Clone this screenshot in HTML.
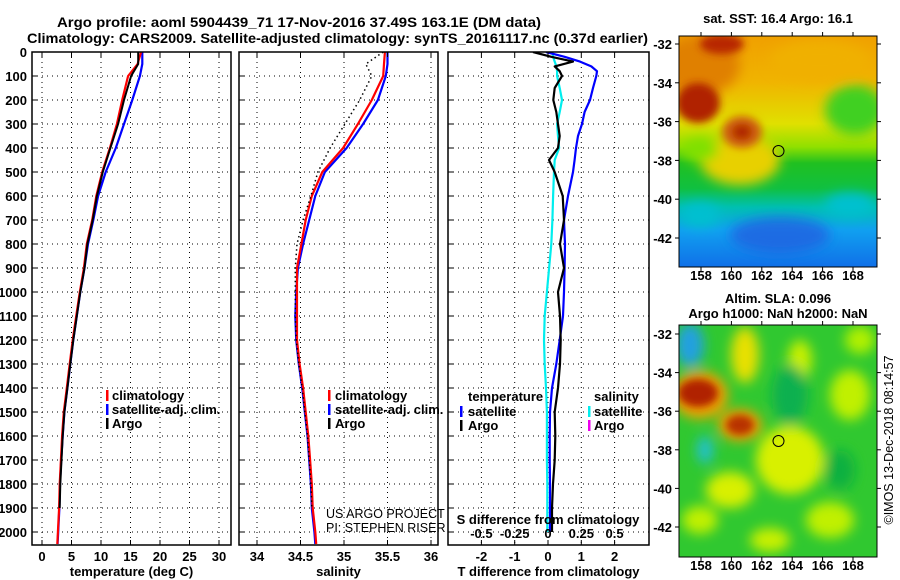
<!DOCTYPE html>
<html><head><meta charset="utf-8">
<style>
html,body{margin:0;padding:0;background:#fff;}
svg{display:block;font-family:"Liberation Sans",sans-serif;}
.b{font-weight:bold;font-size:13px;fill:#000;}
.t{font-weight:bold;font-size:14px;fill:#000;}
</style></head>
<body>
<svg id="chart" width="900" height="580" viewBox="0 0 900 580" xmlns="http://www.w3.org/2000/svg">
<defs>
<filter id="blur6" x="-20%" y="-20%" width="140%" height="140%"><feGaussianBlur stdDeviation="6"/></filter>
<filter id="blur4" x="-20%" y="-20%" width="140%" height="140%"><feGaussianBlur stdDeviation="4"/></filter>
<clipPath id="cp1"><rect x="32" y="52" width="199" height="493"/></clipPath>
<clipPath id="cp2"><rect x="239" y="52" width="199" height="493"/></clipPath>
<clipPath id="cp3"><rect x="448" y="52" width="201" height="493"/></clipPath>
<clipPath id="cpm1"><rect x="679" y="36" width="198" height="231"/></clipPath>
<clipPath id="cpm2"><rect x="679" y="325" width="198" height="232"/></clipPath>
<linearGradient id="sstg" x1="0" y1="0" x2="0" y2="1">
<stop offset="0" stop-color="#f0a000"/><stop offset="0.2" stop-color="#f0b400"/>
<stop offset="0.38" stop-color="#e0e000"/><stop offset="0.48" stop-color="#90e000"/>
<stop offset="0.55" stop-color="#20c020"/><stop offset="0.66" stop-color="#10c040"/>
<stop offset="0.74" stop-color="#00c0b0"/><stop offset="0.84" stop-color="#10a0f0"/>
<stop offset="1" stop-color="#1070e8"/></linearGradient>
</defs>

<g>
<text class="t" x="57" y="27" textLength="484" lengthAdjust="spacingAndGlyphs">Argo profile: aoml 5904439_71 17-Nov-2016 37.49S 163.1E (DM data)</text>
<text class="t" x="27" y="43" textLength="621" lengthAdjust="spacingAndGlyphs">Climatology: CARS2009. Satellite-adjusted climatology: synTS_20161117.nc (0.37d earlier)</text>
</g>

<g id="grids"></g>
<g id="series"></g>
<g id="frames"></g>
<g id="labels"></g>

<g>
<rect x="106" y="390" width="2.5" height="11" fill="#f00"/><text class="b" x="112" y="400">climatology</text>
<rect x="106" y="404" width="2.5" height="11" fill="#00f"/><text class="b" x="112" y="414">satellite-adj. clim.</text>
<rect x="106" y="418" width="2.5" height="11" fill="#000"/><text class="b" x="112" y="428">Argo</text>
</g>
<g>
<rect x="328" y="390" width="2.5" height="11" fill="#f00"/><text class="b" x="335" y="400">climatology</text>
<rect x="328" y="404" width="2.5" height="11" fill="#00f"/><text class="b" x="335" y="414">satellite-adj. clim.</text>
<rect x="328" y="418" width="2.5" height="11" fill="#000"/><text class="b" x="335" y="428">Argo</text>
<text x="326" y="518" font-size="12.5">US ARGO PROJECT</text>
<text x="326" y="532" font-size="12.5">PI: STEPHEN RISER</text>
</g>
<g>
<text class="b" x="468" y="401">temperature</text>
<rect x="460" y="406" width="2.5" height="11" fill="#00f"/><text class="b" x="468" y="416">satellite</text>
<rect x="460" y="420" width="2.5" height="11" fill="#000"/><text class="b" x="468" y="430">Argo</text>
<text class="b" x="594" y="401">salinity</text>
<rect x="588" y="406" width="2.5" height="11" fill="#0ee"/><text class="b" x="594" y="416">satellite</text>
<rect x="588" y="420" width="2.5" height="11" fill="#e0e"/><text class="b" x="594" y="430">Argo</text>
<text class="b" x="548" y="524" text-anchor="middle">S difference from climatology</text>
</g>

<g>
<text class="b" x="778" y="23" text-anchor="middle">sat. SST: 16.4 Argo: 16.1</text>
<g clip-path="url(#cpm1)">
<rect x="679" y="36" width="198" height="231" fill="url(#sstg)"/>
<g filter="url(#blur6)">
<ellipse cx="855" cy="110" rx="30" ry="25" fill="#40d020"/>
<ellipse cx="700" cy="65" rx="40" ry="30" fill="#e08000"/>
<ellipse cx="740" cy="160" rx="40" ry="25" fill="#e8d000"/>
<ellipse cx="700" cy="150" rx="18" ry="12" fill="#80e000"/>
<ellipse cx="820" cy="60" rx="50" ry="20" fill="#f0b000"/>
<ellipse cx="780" cy="235" rx="50" ry="18" fill="#2060e0" opacity="0.8"/>
<ellipse cx="700" cy="215" rx="20" ry="12" fill="#00c0d0"/>
<ellipse cx="850" cy="205" rx="25" ry="12" fill="#00c0d0"/>
</g>
<g filter="url(#blur4)">
<ellipse cx="698" cy="103" rx="22" ry="20" fill="#b02000"/>
<ellipse cx="722" cy="44" rx="22" ry="10" fill="#b82800"/>
<ellipse cx="742" cy="132" rx="20" ry="16" fill="#d06010"/>
<ellipse cx="742" cy="132" rx="10" ry="8" fill="#b02800"/>
</g>
</g>
<circle cx="778.5" cy="151" r="5.5" fill="none" stroke="#000" stroke-width="1"/>
<rect x="679" y="36" width="198" height="231" fill="none" stroke="#000" stroke-width="1"/>
</g>

<g>
<text class="b" x="778" y="303" text-anchor="middle">Altim. SLA: 0.096</text>
<text class="b" x="778" y="318" text-anchor="middle">Argo h1000: NaN h2000: NaN</text>
<g clip-path="url(#cpm2)">
<rect x="679" y="325" width="198" height="232" fill="#30c830"/>
<g filter="url(#blur6)">
<ellipse cx="745" cy="355" rx="14" ry="28" fill="#e8e000"/>
<ellipse cx="800" cy="360" rx="12" ry="20" fill="#c8f000"/>
<ellipse cx="850" cy="395" rx="20" ry="25" fill="#c0f000"/>
<ellipse cx="790" cy="460" rx="34" ry="34" fill="#d8f000"/>
<ellipse cx="730" cy="490" rx="24" ry="18" fill="#d8f000"/>
<ellipse cx="830" cy="520" rx="24" ry="18" fill="#c0f000"/>
<ellipse cx="700" cy="520" rx="18" ry="14" fill="#c0f000"/>
<ellipse cx="770" cy="540" rx="20" ry="12" fill="#c8f000"/>
<ellipse cx="860" cy="340" rx="15" ry="14" fill="#b0f000"/>
<ellipse cx="690" cy="345" rx="14" ry="22" fill="#20a0e0"/>
<ellipse cx="705" cy="450" rx="8" ry="14" fill="#20c0d0"/>
<ellipse cx="700" cy="395" rx="28" ry="24" fill="#f0a000"/>
<ellipse cx="740" cy="425" rx="22" ry="16" fill="#f0a000"/>
<ellipse cx="790" cy="395" rx="18" ry="30" fill="#10b050"/>
<ellipse cx="840" cy="470" rx="15" ry="20" fill="#10b040"/>
</g>
<g filter="url(#blur4)">
<ellipse cx="698" cy="393" rx="20" ry="14" fill="#b02000"/>
<ellipse cx="740" cy="425" rx="14" ry="10" fill="#b83000"/>
</g>
</g>
<circle cx="778.5" cy="441" r="5.5" fill="none" stroke="#000" stroke-width="1"/>
<rect x="679" y="325" width="198" height="232" fill="none" stroke="#000" stroke-width="1"/>
</g>

<text x="893" y="440" font-size="12.5" text-anchor="middle" transform="rotate(-90 893 440)">©IMOS 13-Dec-2018 08:14:57</text>

<script>
const depthTicks = [0,100,200,300,400,500,600,700,800,900,1000,1100,1200,1300,1400,1500,1600,1700,1800,1900,2000];
const tTicks = [0,5,10,15,20,25,30];
const sTicks = [34,34.5,35,35.5,36];
const sTickLabels = ["34","34.5","35","35.5","36"];
const dTTicks = [-2,-1,0,1,2];
const dSTicks = [-0.5,-0.25,0,0.25,0.5];
const dSTickLabels = ["-0.5","-0.25","0","0.25","0.5"];

const profDepth = [0,50,100,200,300,400,500,600,700,800,900,1000,1100,1200,1300,1400,1500,1600,1700,1800,1900,2000,2050];
const tClim = [16.8,16.2,14.6,13.6,12.7,11.5,10.2,9.2,8.5,7.6,7.1,6.4,5.8,5.2,4.7,4.2,3.7,3.4,3.2,3.0,2.9,2.7,2.6];
const tSat = [17.0,17.0,16.6,15.3,13.9,12.5,10.8,9.5,8.7,7.8,7.2,6.5,5.9,5.3,4.8,4.3,3.8,3.5,3.25,3.05,2.95,2.75,2.65];
const sClim = [35.47,35.46,35.45,35.32,35.16,34.99,34.75,34.63,34.56,34.51,34.46,34.46,34.46,34.46,34.49,34.53,34.56,34.59,34.61,34.63,34.64,34.67,34.68];
const sSat = [35.5,35.5,35.48,35.39,35.22,35.03,34.78,34.67,34.60,34.53,34.47,34.45,34.44,34.45,34.48,34.52,34.55,34.58,34.60,34.62,34.63,34.66,34.67];

const argoDepth = [0,50,100,200,300,400,500,600,700,800,900,1000,1100,1200,1300,1400,1500,1600,1700,1800,1900];
const tArgo = [16.3,16.3,15.1,13.9,12.9,11.6,10.3,9.3,8.6,7.7,7.2,6.5,5.9,5.3,4.8,4.3,3.8,3.5,3.3,3.1,3.0];
const sArgo = [35.45,35.25,35.32,35.18,35.01,34.84,34.70,34.62,34.53,34.46,34.44,34.44,34.44,34.45,34.48,34.52,34.55,34.58,34.60,34.62,34.63];

const diffDepth = [0,20,40,60,80,100,150,200,250,300,350,400,450,500,600,700,800,900,1000,1100,1200,1300,1400,1500,1600,1700,1800,1900,2000];
const dTSat = [-0.06,0.5,0.96,1.3,1.47,1.45,1.35,1.26,1.1,1.02,0.9,0.84,0.8,0.75,0.6,0.48,0.51,0.5,0.48,0.45,0.35,0.25,0.12,0.06,0.05,0.05,0.06,0.06,0.06];
const dTArgo = [-0.45,0.1,0.75,0.2,0.35,0.42,0.2,0.16,0.25,0.3,0.35,0.3,0.03,0.2,0.44,0.48,0.36,0.48,0.3,0.36,0.38,0.36,0.3,0.2,0.22,0.2,0.15,0.12,0.12];
const dSSat = [0.033,0.038,0.05,0.063,0.068,0.068,0.088,0.105,0.088,0.068,0.075,0.083,0.05,0.045,0.038,0.033,0.025,0.008,-0.008,-0.025,-0.03,-0.025,-0.015,-0.008,-0.008,-0.008,-0.005,-0.005,-0.005];

const latTicks = [-32,-34,-36,-38,-40,-42];
const lonTicks = [158,160,162,164,166,168];

const yD = d => 52 + d*0.24;
const xT = t => 42 + t*5.9;
const xS = s => 257 + (s-34)*87;
const xDT = t => 548 + t*33.3;
const xDS = s => 548 + s*4*33.3;
const lonX = l => 701 + (l-158)*15.2;
const latY1 = l => 44 + (-32-l)*19.4;
const latY2 = l => 334 + (-32-l)*19.3;

const NS = "http://www.w3.org/2000/svg";
function mk(parent, tag, attrs){
  const e = document.createElementNS(NS, tag);
  for (const k in attrs) e.setAttribute(k, attrs[k]);
  parent.appendChild(e);
  return e;
}
const grids = document.getElementById('grids');
const series = document.getElementById('series');
const frames = document.getElementById('frames');
const labels = document.getElementById('labels');

const panels = [
  {x0:32,x1:231,xf:xT,ticks:tTicks,labs:tTicks.map(String),name:'temperature',title:'temperature (deg C)'},
  {x0:239,x1:438,xf:xS,ticks:sTicks,labs:sTickLabels,name:'salinity',title:'salinity'},
  {x0:448,x1:649,xf:xDT,ticks:dTTicks,labs:dTTicks.map(String),name:'difference',title:'T difference from climatology'}
];
panels.forEach((p,i)=>{
  depthTicks.forEach(d=>{
    if(d===0) return;
    const g = mk(grids,'line',{x1:p.x0,x2:p.x1,y1:yD(d),y2:yD(d),stroke:'#000','stroke-width':1,'stroke-dasharray':'1 4'});
    
    
  });
  p.ticks.forEach((t,j)=>{
    const x = p.xf(t);
    const g = mk(grids,'line',{x1:x,x2:x,y1:52,y2:545,stroke:'#000','stroke-width':1,'stroke-dasharray':'1 4'});
    
    
    mk(frames,'line',{x1:x,x2:x,y1:52,y2:57,stroke:'#000'});
    mk(frames,'line',{x1:x,x2:x,y1:540,y2:545,stroke:'#000'});
    const tl = mk(labels,'text',{x:x,y:561,'text-anchor':'middle','class':'b'});
    tl.textContent = p.labs[j];
    
    
  });
  const fr = mk(frames,'rect',{x:p.x0,y:52,width:p.x1-p.x0,height:493,fill:'none',stroke:'#000','stroke-width':1.5});
  
  
  const at = mk(labels,'text',{x:(p.x0+p.x1)/2,y:576,'text-anchor':'middle','class':'b'});
  at.textContent = p.title;
  
  
});
dSTicks.forEach((s,j)=>{
  const tl = mk(labels,'text',{x:xDS(s),y:538,'text-anchor':'middle','class':'b'});
  tl.textContent = dSTickLabels[j];
  
  
});
depthTicks.forEach(d=>{
  const tl = mk(labels,'text',{x:27,y:yD(d)+5,'text-anchor':'end','class':'b'});
  tl.textContent = String(d);
  
  
  [32,239,448].forEach(x0=>mk(frames,'line',{x1:x0,x2:x0+5,y1:yD(d),y2:yD(d),stroke:'#000'}));
});

function line(depths, vals, xf, color, clip, name, dash, w){
  const pts = depths.map((d,i)=>xf(vals[i]).toFixed(1)+','+yD(d).toFixed(1)).join(' ');
  const attrs = {points:pts,fill:'none',stroke:color,'stroke-width':w||2.2,'clip-path':'url(#'+clip+')','stroke-linejoin':'round'};
  if(dash) attrs['stroke-dasharray']=dash;
  const e = mk(series,'polyline',attrs);
  
  
}
line(profDepth, tSat, xT, '#00f', 'cp1', 'temperature-satellite-line');
line(profDepth, tClim, xT, '#f00', 'cp1', 'temperature-climatology-line');
line(argoDepth, tArgo, xT, '#000', 'cp1', 'temperature-argo-line', null, 2);
line(profDepth, sSat, xS, '#00f', 'cp2', 'salinity-satellite-line');
line(profDepth, sClim, xS, '#f00', 'cp2', 'salinity-climatology-line');
line(argoDepth, sArgo, xS, '#000', 'cp2', 'salinity-argo-line', '1.5 3', 1.5);
line(diffDepth, dSSat, xDS, '#0ee', 'cp3', 'salinity-satellite-difference-line');
line(diffDepth, dTSat, xDT, '#00f', 'cp3', 'temperature-satellite-difference-line');
line(diffDepth, dTArgo, xDT, '#000', 'cp3', 'temperature-argo-difference-line');

[[latY1,280,36,267],[latY2,570,325,557]].forEach(([ly,lonLabY,top,bot],m)=>{
  latTicks.forEach(l=>{
    const y = ly(l);
    const tl = mk(labels,'text',{x:672,y:y+5,'text-anchor':'end','class':'b'});
    tl.textContent = String(l);
    
    
    mk(frames,'line',{x1:877,x2:881,y1:y,y2:y,stroke:'#000'});
    mk(frames,'line',{x1:675,x2:679,y1:y,y2:y,stroke:'#000'});
  });
  lonTicks.forEach(l=>{
    const x = lonX(l);
    const tl = mk(labels,'text',{x:x,y:lonLabY,'text-anchor':'middle','class':'b'});
    tl.textContent = String(l);
    
    
    mk(frames,'line',{x1:x,x2:x,y1:top-4,y2:top,stroke:'#000'});
    mk(frames,'line',{x1:x,x2:x,y1:bot,y2:bot+4,stroke:'#000'});
  });
});
</script>
</svg>
</body></html>
